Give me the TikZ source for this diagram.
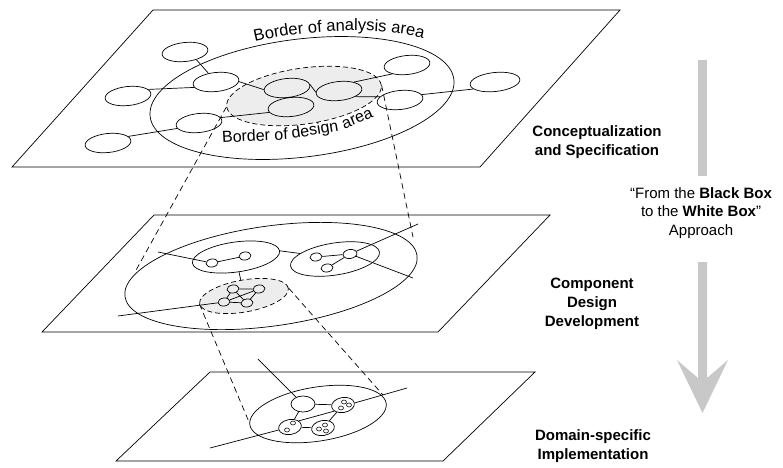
\documentclass[tikz,border=0pt]{standalone}
\usepackage{fontspec}
\setmainfont{Liberation Sans}
\usetikzlibrary{shapes.geometric,decorations.text}
\definecolor{areagray}{HTML}{EDEDED}
\definecolor{arrowgray}{HTML}{C8C8C8}

\begin{document}
\begin{tikzpicture}[x=1pt,y=-1pt,line width=0.7pt,
  plane/.style={draw,fill=white,line join=miter},
  border/.style={ellipse,draw,inner sep=0pt},
  design/.style={ellipse,draw,fill=areagray,inner sep=0pt,dash pattern=on 5pt off 3pt},
  proj/.style={dash pattern=on 6pt off 4pt},
  elem/.style={ellipse,draw,inner sep=0pt,minimum width=46pt,minimum height=19pt,rotate=6},
  sub/.style={ellipse,draw,inner sep=0pt,minimum width=12pt,minimum height=8pt,rotate=8},
  comp/.style={ellipse,draw,inner sep=0pt,minimum width=23pt,minimum height=15pt,rotate=10},
  dot/.style={ellipse,draw,inner sep=0pt,minimum width=5pt,minimum height=4pt,line width=0.55pt},
  word/.style={anchor=base west,inner sep=0pt,font=\fontsize{16}{16}\selectfont},
  lbl/.style={font=\fontsize{15}{19}\selectfont\bfseries,align=center,inner sep=0pt},
  note/.style={font=\fontsize{15}{18.5}\selectfont,align=center,inner sep=0pt},
]
\useasboundingbox (0,0) rectangle (783,467);

% ---------- planes ----------
\draw[plane] (153,10) -- (620,10) -- (480,167) -- (12,167) -- cycle;
\draw[plane] (154,215) -- (550,215) -- (438,332) -- (42,332) -- cycle;
\draw[plane] (210,372) -- (535,372) -- (443,461) -- (116,461) -- cycle;

% ---------- analysis level ----------
\node[border,minimum width=306pt,minimum height=118pt,rotate=7] (ana1) at (302,98) {};
\node[design,minimum width=156pt,minimum height=56pt,rotate=8] (des1) at (304,96) {};

\node[elem] (n1) at (185,52) {};
\node[elem] (n2) at (128,96) {};
\node[elem] (n3) at (108,143) {};
\node[elem] (n4) at (216,82) {};
\node[elem] (n5) at (199,123) {};
\node[elem] (n6) at (287,88) {};
\node[elem] (n7) at (339,91) {};
\node[elem] (n8) at (291,107) {};
\node[elem] (n9) at (407,65) {};
\node[elem] (n10) at (400,100) {};
\node[elem,minimum width=50pt] (n11) at (495,82) {};

\draw (n1.-40) -- (n4.125);
\draw (n2.12) -- (n4.188);
\draw (n4.-5) -- (n6.178);
\draw (n6.3) -- (n7.177);
\draw (n6.-90) -- (n8.90);
\draw (n7.25) -- (n9.205);
\draw (n7.-25) -- (n10.165);
\draw (n10.8) -- (n11.192);
\draw (n8.188) -- (n5.8);
\draw (n5.188) -- (n3.12);

\path[decorate,decoration={text along path,text align=left,
  text={|\fontsize{16.5}{16.5}\selectfont|Border of analysis area}}]
  (255,42) .. controls (310,29) and (385,25) .. (436,42);

% design border label, word by word along the lower rim
\node[word,rotate=3]  (dw1) at (222,143) {Border of};
\node[word,rotate=9]  (dw2) at (292,138.5) {design};
\node[word,rotate=23] (dw3) at (344,129.5) {area};

% ---------- component level ----------
\node[border,minimum width=295pt,minimum height=100pt,rotate=8] (ana2) at (271,276) {};
\node[border,minimum width=88pt,minimum height=30pt,rotate=8] (lsub) at (236,257) {};
\node[border,minimum width=90pt,minimum height=32pt,rotate=9] (rsub) at (335,259) {};
\node[design,minimum width=90pt,minimum height=32pt,rotate=10] (des2) at (244,296) {};

\node[sub] (la) at (212,263) {};
\node[sub] (lb) at (245,256) {};
\node[sub] (ra) at (316,257) {};
\node[sub] (rb) at (327,268) {};
\node[sub,minimum width=14pt,minimum height=9pt] (rc) at (350,254) {};

\node[sub] (c1) at (233,289) {};
\node[sub] (c2) at (259,289) {};
\node[sub] (c3) at (224,302) {};
\node[sub] (c4) at (247,303) {};

\coordinate (ml) at (158,252);
\coordinate (mu) at (418,224);
\coordinate (md) at (413,278);
\coordinate (mb) at (118,316);

\draw (ml) -- (la);
\draw (la) -- (lb);
\draw (ra) -- (rc);
\draw (rb) -- (rc);
\draw (rc) -- (mu);
\draw (rc) -- (md);
\draw (lsub.east) -- (rsub.162);
\draw (lsub) -- (des2);
\draw (mb) -- (c3);
\draw (c1) -- (c2);
\draw (c3) -- (c4);
\draw (c1) -- (c3);
\draw (c2) -- (c4);
\draw (c3) -- (c2);
\draw (c1) -- (c4);

% ---------- implementation level ----------
\node[border,minimum width=138pt,minimum height=54pt,rotate=9] (ana3) at (318,414) {};
\node[ellipse,draw,inner sep=0pt,minimum width=24pt,minimum height=16pt] (wn) at (303,404) {};
\node[comp] (rn) at (343,405) {};
\node[comp] (ln) at (290,427) {};
\node[comp] (mn) at (323,428) {};

\node[dot] at (344,402) {};
\node[dot] at (349,405) {};
\node[dot] at (341,408) {};
\node[dot] at (293,423) {};
\node[dot] at (287,430) {};
\node[dot] at (319,429) {};
\node[dot] at (325,425) {};
\node[dot] at (326,431) {};

\coordinate (bl) at (210,448);
\coordinate (br) at (407,388);
\coordinate (bt) at (258,359);

\draw (bl) -- (ln);
\draw (ln.25) -- (rn.205);
\draw (rn.east) -- (br);
\draw (wn) -- (rn);
\draw (wn) -- (ln);
\draw (rn) -- (mn);
\draw (ln) -- (mn);
\draw (bt) -- (wn);

% ---------- projection lines ----------
\coordinate (p1) at (135,272);
\coordinate (p2) at (413,237);
\coordinate (p3) at (249,422);
\coordinate (p4) at (383,395);
\draw[proj] (des1.west) -- (p1);
\draw[proj] (des1.east) -- (p2);
\draw[proj] (des2.west) -- (p3);
\draw[proj] (des2.east) -- (p4);

% ---------- approach arrow ----------
\fill[arrowgray] (698,60) rectangle (707,176);
\fill[arrowgray] (698,262) -- (698,378) -- (677,360) -- (702.5,413)
  -- (728,360) -- (707,378) -- (707,262) -- cycle;

% ---------- labels ----------
\node[lbl] (lev1) at (597,142) {Conceptualization\\and Specification};
\node[lbl] (lev2) at (592,304) {Component\\Design\\Development};
\node[lbl] (lev3) at (593,446) {Domain-specific\\Implementation};
\node[note] (appr) at (701,213) {“From the \textbf{Black Box}\\to the \textbf{White Box}”\\Approach};
\end{tikzpicture}
\end{document}
